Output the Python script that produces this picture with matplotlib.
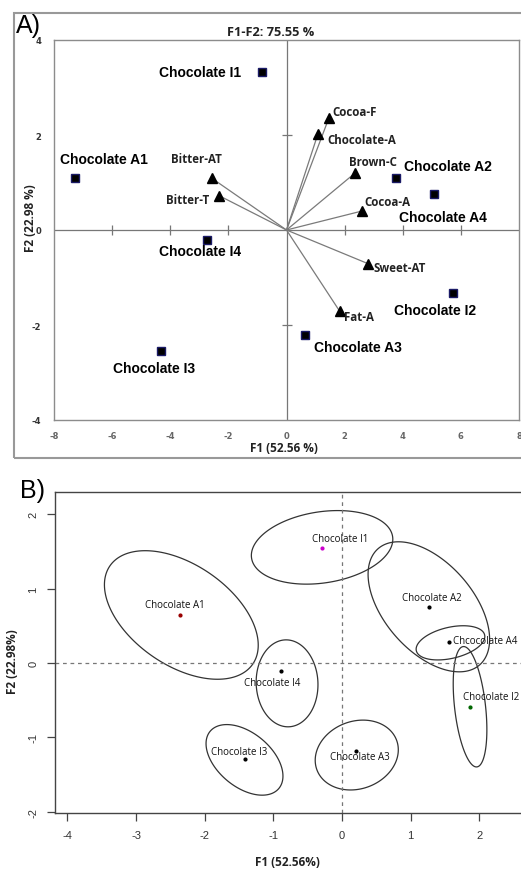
import numpy as np
import matplotlib
matplotlib.use('Agg')
import matplotlib.pyplot as plt
from matplotlib.patches import Rectangle, Polygon

plt.rcParams['axes.unicode_minus'] = False

# ---- panel A data (PCA biplot) ----
obs_names = ['Chocolate I1', 'Chocolate A1', 'Chocolate A2', 'Chocolate A4',
             'Chocolate I4', 'Chocolate I2', 'Chocolate A3', 'Chocolate I3']
obs_f1 = [-0.83, -7.28, 3.76, 5.07, -2.72, 5.74, 0.65, -4.33]
obs_f2 = [3.33, 1.09, 1.09, 0.76, -0.22, -1.33, -2.21, -2.54]

var_names = ['Cocoa-F', 'Chocolate-A', 'Brown-C', 'Cocoa-A',
             'Bitter-AT', 'Bitter-T', 'Sweet-AT', 'Fat-A']
var_f1 = [1.46, 1.08, 2.36, 2.60, -2.57, -2.31, 2.81, 1.83]
var_f2 = [2.36, 2.02, 1.20, 0.40, 1.09, 0.72, -0.71, -1.71]

# ---- panel B data (confidence ellipses) ----
b_names = ['Chocolate I1', 'Chocolate A1', 'Chocolate A2', 'Chcocolate A4',
           'Chocolate I4', 'Chocolate I2', 'Chocolate I3', 'Chocolate A3']
b_f1 = [-0.29, -2.36, 1.27, 1.56, -0.89, 1.86, -1.41, 0.20]
b_f2 = [1.55, 0.65, 0.75, 0.28, -0.11, -0.59, -1.29, -1.18]
ell_cx = [-0.29, -2.34, 1.265, 1.58, -0.80, 1.865, -1.42, 0.215]
ell_cy = [1.555, 0.645, 0.755, 0.27, -0.275, -0.59, -1.305, -1.24]
ell_xhalf = [1.03, 1.12, 0.885, 0.50, 0.45, 0.245, 0.56, 0.605]
ell_yhalf = [0.495, 0.865, 0.875, 0.23, 0.585, 0.81, 0.475, 0.47]
ell_rho = [0.22, -0.47, -0.5, 0.37, -0.03, -0.38, -0.46, 0.15]
dot_cols = ['#cc00cc', '#990000', 'k', 'k', 'k', '#006600', 'k', 'k']

W, H = 521, 870
fig = plt.figure(figsize=(W / 100, H / 100), dpi=100)

def box(l, t, r, b):
    return [l / W, 1 - b / H, (r - l) / W, (b - t) / H]

LBL = dict(fontweight='bold', family='Open Sans', color='#222222')

# ================= panel A =================
fig.add_artist(Rectangle((14 / W, 1 - 459 / H), 520 / W, 445 / H, transform=fig.transFigure,
                         fill=False, edgecolor='#999999', linewidth=1.5))
ax1 = fig.add_axes(box(54, 41, 519, 421))
ax1.set_xlim(-8, 8)
ax1.set_ylim(-4, 4)
for s in ax1.spines.values():
    s.set_color('#8c8c8c')
    s.set_linewidth(1.0)
ax1.axhline(0, color='#777777', lw=0.9, zorder=1)
ax1.axvline(0, color='#777777', lw=0.9, zorder=1)
xt = [-6, -4, -2, 2, 4, 6]
yt = [-2, 2]
ax1.plot(xt, [0] * len(xt), ls='none', marker='|', ms=7, mew=0.9, color='#777777')
ax1.plot([0] * len(yt), yt, ls='none', marker='_', ms=7, mew=0.9, color='#777777')
ax1.set_xticks(range(-8, 9, 2))
ax1.set_yticks(range(-4, 5, 2))
ax1.tick_params(length=0, labelsize=6, colors='#333333', pad=9)
ax1.tick_params(axis='x', pad=8)
for lab in ax1.get_yticklabels():
    lab.set_fontweight('bold')
for lab in ax1.get_xticklabels():
    lab.set_fontweight('bold')
    lab.set_color('#666666')

for x, y in zip(var_f1, var_f2):
    ax1.plot([0, x], [0, y], color='#7a7a7a', lw=0.9, zorder=2)
ax1.plot(var_f1, var_f2, ls='none', marker='^', ms=6.5, color='k', zorder=3)
ax1.plot(obs_f1, obs_f2, ls='none', marker='s', ms=6, mfc='k', mec='#1a1a66', zorder=3)

obs_off = [(-21, 0, 'right'), (29, 19, 'center'), (8, 12, 'left'), (9, -23, 'center'),
           (-7, -11, 'center'), (-18, -17, 'center'), (9, -12, 'left'), (-7, -17, 'center')]
for n, x, y, (dx, dy, ha) in zip(obs_names, obs_f1, obs_f2, obs_off):
    ax1.annotate(n, (x, y), xytext=(dx, dy), textcoords='offset pixels', ha=ha, va='center',
                 fontsize=10, fontweight='bold', family='Liberation Sans')

var_off = [(3, 6, 'left'), (9, -5, 'left'), (-6, 11, 'left'), (2, 10, 'left'),
           (10, 20, 'right'), (-10, -4, 'right'), (5, -4, 'left'), (4, -5, 'left')]
for n, x, y, (dx, dy, ha) in zip(var_names, var_f1, var_f2, var_off):
    ax1.annotate(n, (x, y), xytext=(dx, dy), textcoords='offset pixels', ha=ha, va='center',
                 fontsize=8.3, **LBL)

fig.text(271 / W, 1 - 32 / H, 'F1-F2: 75.55 %', ha='center', va='center', fontsize=9.2, **LBL)
fig.text(284 / W, 1 - 449 / H, 'F1 (52.56 %)', ha='center', va='center', fontsize=8.5, **LBL)
fig.text(31 / W, 1 - 218 / H, 'F2 (22.98 %)', ha='center', va='center', rotation=90,
         fontsize=8.5, **LBL)
fig.text(16 / W, 1 - 26 / H, 'A)', ha='left', va='center', fontsize=18, family='Liberation Sans')

# ================= panel B =================
ax2 = fig.add_axes(box(55, 493, 526, 814))
ax2.set_xlim(-4.18, 2.68)
ax2.set_ylim(-2.02, 2.30)
for s in ax2.spines.values():
    s.set_color('#444444')
    s.set_linewidth(1.0)
ax2.axhline(0, color='#777777', lw=0.9, ls=(0, (3, 3)))
ax2.axvline(0, color='#777777', lw=0.9, ls=(0, (3, 3)))
ax2.set_xticks(range(-4, 3))
ax2.set_yticks(range(-2, 3))
ax2.tick_params(length=6, width=0.9, color='#444444', labelsize=8, labelcolor='#333333', pad=6)
for lab in ax2.get_xticklabels() + ax2.get_yticklabels():
    lab.set_family('Liberation Sans')
for lab in ax2.get_yticklabels():
    lab.set_rotation(90)
    lab.set_va('center')

t = np.linspace(0, 2 * np.pi, 360, endpoint=False)
for cx, cy, a, b, r in zip(ell_cx, ell_cy, ell_xhalf, ell_yhalf, ell_rho):
    d = np.arccos(r)
    pts = np.column_stack([cx + a * np.cos(t), cy + b * np.cos(t - d)])
    ax2.add_patch(Polygon(pts, closed=True, fill=False, edgecolor='#333333', lw=0.9))
for x, y, c in zip(b_f1, b_f2, dot_cols):
    ax2.plot(x, y, marker='o', ms=2, color=c, ls='none')

b_off = [(18, 9, 'center'), (-5, 10, 'center'), (3, 10, 'center'), (4, 2, 'left'),
         (-9, -11, 'center'), (-7, 10, 'left'), (-6, 7, 'center'), (4, -6, 'center')]
for n, x, y, (dx, dy, ha) in zip(b_names, b_f1, b_f2, b_off):
    ax2.annotate(n, (x, y), xytext=(dx, dy), textcoords='offset pixels', ha=ha, va='center',
                 fontsize=7.0, family='Open Sans', color='#111111')

fig.text(287 / W, 1 - 863 / H, 'F1 (52.56%)', ha='center', va='center', fontsize=8.5, **LBL)
fig.text(12 / W, 1 - 662 / H, 'F2 (22.98%)', ha='center', va='center', rotation=90,
         fontsize=8.5, **LBL)
fig.text(20 / W, 1 - 491 / H, 'B)', ha='left', va='center', fontsize=18, family='Liberation Sans')

fig.savefig('out.png', dpi=100)
